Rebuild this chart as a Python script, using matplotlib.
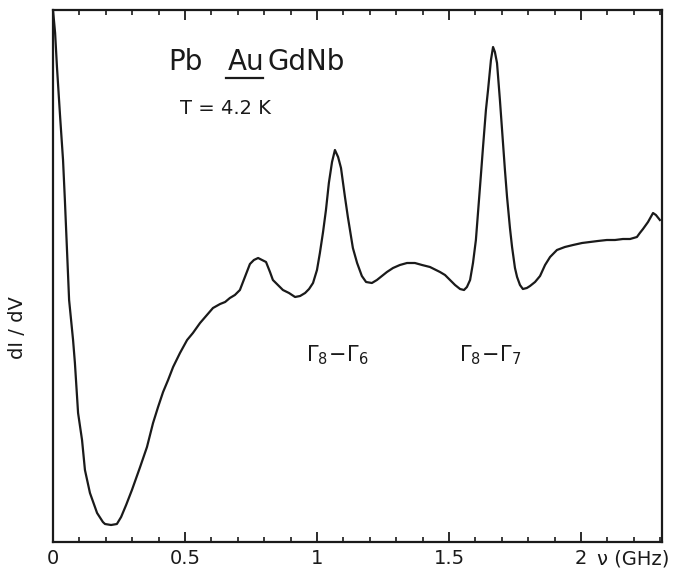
import matplotlib
matplotlib.use("Agg")
import matplotlib.pyplot as plt
from matplotlib.ticker import MultipleLocator, FixedLocator
import matplotlib.transforms as mtrans

# frequency (GHz) and dI/dV (arb. units)
freq = [0.000, 0.008, 0.015, 0.027, 0.038, 0.045, 0.053, 0.061, 0.076, 0.083,
        0.087, 0.095, 0.110, 0.121, 0.140, 0.167, 0.189, 0.197, 0.220, 0.242,
        0.258, 0.277, 0.299, 0.330, 0.356, 0.379, 0.398, 0.417, 0.436, 0.455,
        0.481, 0.508, 0.530, 0.557, 0.583, 0.606, 0.633, 0.652, 0.670, 0.689,
        0.708, 0.727, 0.746, 0.761, 0.777, 0.792, 0.807, 0.822, 0.833, 0.852,
        0.871, 0.894, 0.917, 0.936, 0.955, 0.970, 0.985, 1.000, 1.011, 1.023,
        1.034, 1.045, 1.057, 1.068, 1.080, 1.091, 1.106, 1.117, 1.125, 1.136,
        1.152, 1.170, 1.186, 1.208, 1.227, 1.246, 1.265, 1.288, 1.314, 1.341,
        1.371, 1.398, 1.428, 1.466, 1.485, 1.504, 1.523, 1.542, 1.557, 1.568,
        1.580, 1.591, 1.602, 1.610, 1.621, 1.629, 1.640, 1.648, 1.659, 1.667,
        1.674, 1.682, 1.693, 1.701, 1.712, 1.720, 1.731, 1.739, 1.750, 1.758,
        1.769, 1.780, 1.795, 1.807, 1.826, 1.845, 1.864, 1.883, 1.909, 1.939,
        1.970, 2.004, 2.034, 2.064, 2.098, 2.129, 2.159, 2.186, 2.212, 2.223,
        2.235, 2.254, 2.273, 2.284, 2.299]
didv = [53.2, 50.9, 47.5, 42.5, 38.2, 34.2, 29.2, 24.2, 20.2, 17.9,
        16.2, 12.9, 10.2, 7.2, 4.9, 2.9, 2.0, 1.8, 1.7, 1.8,
        2.5, 3.7, 5.2, 7.5, 9.5, 11.9, 13.5, 15.0, 16.2, 17.5,
        18.9, 20.2, 20.9, 21.9, 22.7, 23.4, 23.8, 24.0, 24.4, 24.7,
        25.2, 26.5, 27.8, 28.2, 28.4, 28.2, 28.0, 27.0, 26.2, 25.7,
        25.2, 24.9, 24.5, 24.6, 24.9, 25.3, 25.9, 27.2, 28.9, 31.0,
        33.2, 35.9, 38.0, 39.2, 38.5, 37.4, 34.5, 32.5, 31.2, 29.4,
        27.9, 26.6, 26.0, 25.9, 26.2, 26.6, 27.0, 27.4, 27.7, 27.9,
        27.9, 27.7, 27.5, 27.0, 26.7, 26.2, 25.7, 25.3, 25.2, 25.5,
        26.2, 27.9, 30.2, 32.9, 36.7, 39.5, 43.2, 45.2, 48.2, 49.5,
        49.0, 47.9, 44.2, 41.2, 37.2, 34.5, 31.4, 29.5, 27.4, 26.5,
        25.7, 25.3, 25.4, 25.6, 26.0, 26.6, 27.7, 28.5, 29.2, 29.5,
        29.7, 29.9, 30.0, 30.1, 30.2, 30.2, 30.3, 30.3, 30.5, 30.9,
        31.3, 32.0, 32.9, 32.7, 32.2]

xticks = [0, 0.5, 1, 1.5, 2]
xticklabels = ["0", "0.5", "1", "1.5", "2"]

ink = '#1a1a1a'
fig = plt.figure(figsize=(6.86, 5.73), dpi=100)
ax = fig.add_axes([53/686, 1 - 542/573, 609/686, 532/573])

ax.plot(freq, didv, color=ink, lw=1.6)

ax.set_xlim(0, 2.307)
ax.set_ylim(0, 53.2)

for s in ax.spines.values():
    s.set_linewidth(1.6)
    s.set_color(ink)

ax.xaxis.set_major_locator(FixedLocator(xticks))
ax.set_xticklabels(xticklabels, fontsize=14)
ax.xaxis.set_minor_locator(MultipleLocator(0.1))
ax.tick_params(axis='x', which='major', direction='in', length=7, width=1.3,
               top=True, pad=5, colors=ink)
ax.tick_params(axis='x', which='minor', direction='in', length=3.5, width=1.2,
               top=True, colors=ink)
ax.tick_params(axis='y', left=False, right=False, labelleft=False)

trans = mtrans.blended_transform_factory(ax.transData, ax.transAxes)
ax.text(2.06, -0.015, "\u03bd (GHz)", transform=trans, ha='left', va='top',
        fontsize=14, color=ink)

ax.set_ylabel("dI / dV", fontsize=14, color=ink)
ax.yaxis.set_label_coords(-0.043, 0.404)

# sample label, with Au underlined
ax.text(0.436, 48.0, "Pb", fontsize=20, va='center', ha='left', color=ink)
ax.text(0.663, 48.0, "Au", fontsize=20, va='center', ha='left', color=ink)
ax.text(0.814, 48.0, "GdNb", fontsize=20, va='center', ha='left', color=ink)
ax.plot([0.655, 0.795], [46.4, 46.4], color=ink, lw=1.6)
ax.text(0.481, 43.4, "T = 4.2 K", fontsize=14, va='center', ha='left', color=ink)

ax.text(1.076, 18.7, r"$\Gamma_8\!-\!\Gamma_6$", fontsize=15, ha='center', va='center',
        color=ink)
ax.text(1.655, 18.7, r"$\Gamma_8\!-\!\Gamma_7$", fontsize=15, ha='center', va='center',
        color=ink)

fig.savefig("out.png", dpi=100)
